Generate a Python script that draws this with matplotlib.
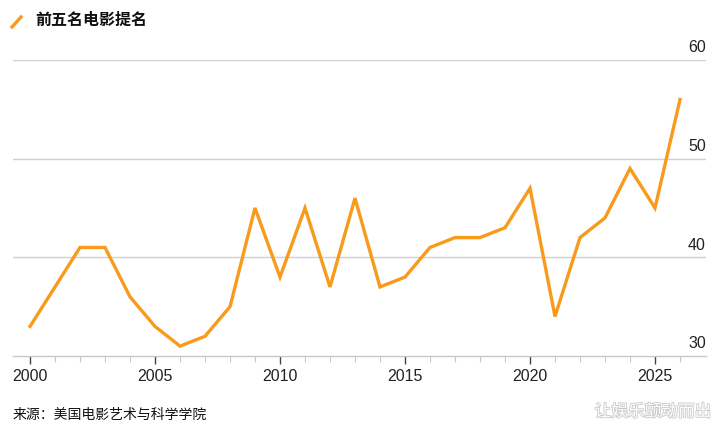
import matplotlib
matplotlib.use("Agg")
import matplotlib.pyplot as plt
import matplotlib.transforms as mtransforms
import matplotlib.patheffects as pe
from matplotlib.lines import Line2D

plt.rcParams['font.family'] = ['Liberation Sans', 'Noto Sans CJK SC', 'DejaVu Sans']

years = list(range(2000, 2027))
nominations = [33, 37, 41, 41, 36, 33, 31, 32, 35, 45, 38, 45, 37, 46, 37, 38,
               41, 42, 42, 43, 47, 34, 42, 44, 49, 45, 56]
y_ticks = [30, 40, 50, 60]
x_major = [2000, 2005, 2010, 2015, 2020, 2025]
series_label = "前五名电影提名"
source_text = "来源：美国电影艺术与科学学院"
watermark = "让娱乐颤动而出"

color = "#F89A1C"

fig = plt.figure(figsize=(7.2, 4.31), dpi=100)
ax = fig.add_axes([13/720, 74/431, (706-13)/720, (357-61)/431])

ax.plot(years, nominations, color=color, lw=2.4, solid_joinstyle='miter', clip_on=False)

ax.set_xlim(1999.32, 2027.04)
ax.set_ylim(30, 60)

for s in ['top', 'right', 'left']:
    ax.spines[s].set_visible(False)
ax.spines['bottom'].set_color('#c8c8c8')
ax.spines['bottom'].set_linewidth(1.0)

ax.set_yticks(y_ticks)
ax.yaxis.set_tick_params(length=0, labelleft=False)
for v in y_ticks[1:]:
    ax.axhline(v, color='#d0d0d0', lw=1.0, zorder=0)
trans = mtransforms.blended_transform_factory(ax.transAxes, ax.transData) + \
    mtransforms.ScaledTranslation(0, 4/72, fig.dpi_scale_trans)
for v in y_ticks:
    ax.text(1.0, v, str(v), transform=trans, ha='right', va='bottom',
            fontsize=11.5, color='#222222')

ax.set_xticks(x_major)
ax.set_xticks(years, minor=True)
ax.tick_params(axis='x', which='major', length=6, width=1, color='#444444',
               labelsize=11.5, labelcolor='#222222', pad=3)
ax.tick_params(axis='x', which='minor', length=4, width=0.8, color='#c8c8c8')

# legend-style title
fig.add_artist(Line2D([12/720, 21/720], [1 - 28/431, 1 - 18/431], color=color, lw=2.4,
                      transform=fig.transFigure))
fig.text(35/720, 1 - 20/431, series_label, fontsize=11.5, fontweight='bold',
         va='center', ha='left', color='#111111',
         family=['Noto Sans CJK SC', 'DejaVu Sans'])

fig.text(13/720, 1 - 415/431, source_text, fontsize=10, va='center', ha='left',
         color='#111111', family=['Noto Sans CJK SC', 'DejaVu Sans'])
fig.text(711/720, 1 - 413/431, watermark, fontsize=12, va='center', ha='right',
         color='#ffffff', family=['Noto Sans CJK SC', 'DejaVu Sans'],
         path_effects=[pe.withStroke(linewidth=1.2, foreground='#c8c8c8')])

fig.savefig("out.png", dpi=100)
